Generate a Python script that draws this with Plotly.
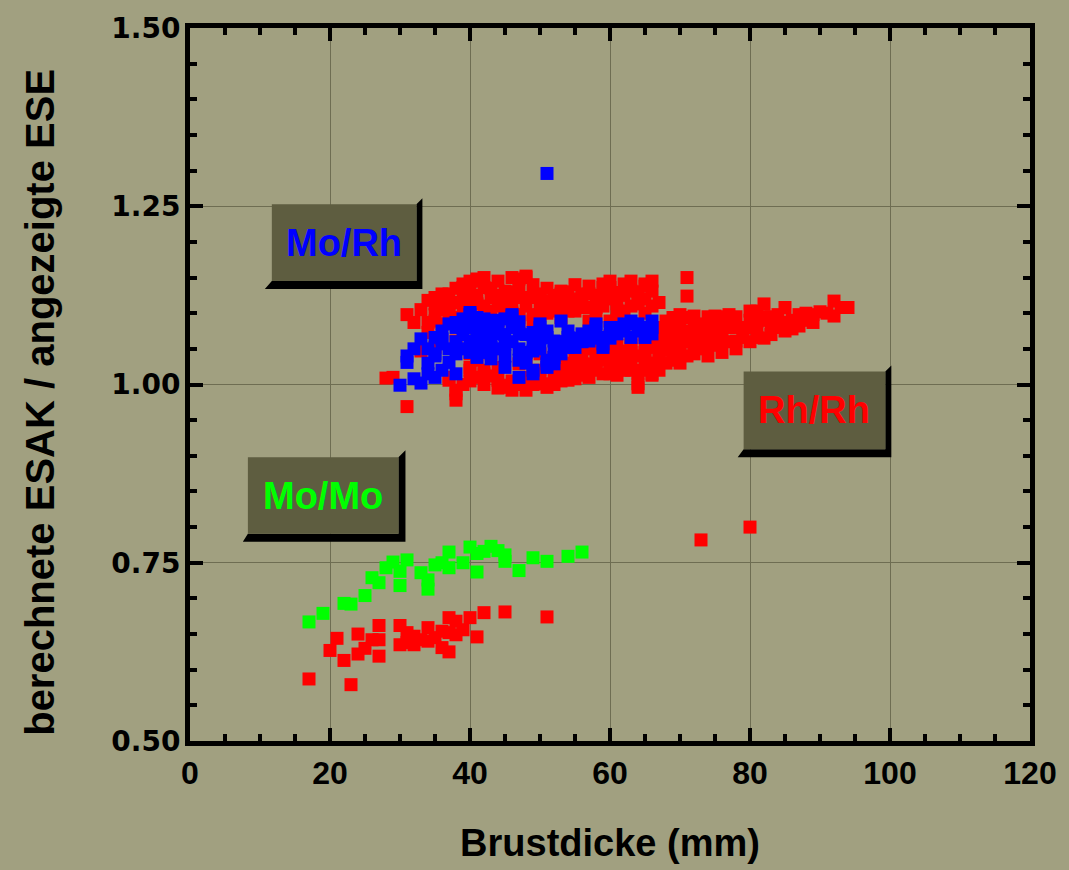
import plotly.graph_objects as go

# ---------------- data ----------------
red_x = [17, 20, 21, 22, 23, 24, 24, 25, 26, 27, 27, 27, 30, 30, 31, 31, 32, 32, 33, 34, 34, 35, 36, 36,
         37, 37, 37, 38, 38, 39, 40, 41, 42, 45, 51, 73, 80,
         28, 29, 31, 31, 32, 33, 34, 34, 35, 35, 35, 35, 35, 36, 36, 36, 37, 37, 37, 37, 37, 37, 38, 38,
         38, 38, 38, 39, 39, 39, 39, 40, 40, 40, 40, 40, 40, 41, 41, 41, 41, 41, 42, 42, 42, 43, 43, 43,
         44, 44, 44, 44, 45, 45, 45, 45, 45, 45, 46, 46, 46, 47, 47, 47, 47, 47, 47, 48, 48, 48, 48, 48,
         49, 49, 49, 49, 50, 50, 50, 50, 50, 50, 51, 51, 51, 51, 52, 52, 52, 52, 52, 53, 53, 53, 54, 54,
         54, 54, 55, 55, 55, 56, 56, 56, 56, 57, 57, 57, 57, 57, 58, 58, 58, 59, 59, 59, 59, 60, 60, 60,
         61, 61, 61, 61, 61, 62, 62, 62, 62, 62, 62, 63, 63, 63, 64, 64, 64, 64, 64, 64, 65, 65, 65, 66,
         66, 66, 66, 67, 67, 67, 67, 68, 68, 68, 69, 69, 69, 69, 70, 70, 70, 70, 70, 70, 71, 71, 71, 71,
         72, 72, 72, 73, 74, 74, 75, 75, 76, 76, 77, 78, 78, 79, 80, 80, 81, 81, 81, 82, 83, 84, 85, 85,
         87, 87, 89, 90, 92, 92, 93, 94,
         53, 55, 56, 58, 59, 60, 60, 61, 63, 63, 65, 65, 66, 67, 68, 68, 69, 71, 73, 74, 76, 77, 79, 82,
         33, 34, 36, 38, 38, 39, 40, 41, 42, 42, 43, 44, 44, 46, 46, 47, 48, 49, 50, 51, 51, 52, 53, 54,
         55, 55, 56, 57, 58, 58, 59, 60, 60, 61, 62, 63, 63, 64, 65, 65, 66, 66,
         39, 40, 41, 42, 43, 44, 46, 47, 48, 49, 50, 52, 53, 53, 54, 55, 56, 57, 58, 59, 60, 60, 61, 62,
         63, 63, 64, 65, 65, 66, 66, 67, 67, 68, 68, 69, 69, 70, 71, 71, 72, 72, 73, 73, 74, 74, 75, 75,
         76, 76, 77, 77, 78, 78, 79, 80, 80, 81, 82, 82, 83, 83, 84, 85, 86, 86, 88, 88, 89, 91, 57, 55,
         53, 61, 59]
red_y = [0.587, 0.627, 0.644, 0.613, 0.579, 0.650, 0.622, 0.630, 0.642, 0.662, 0.642, 0.619, 0.662, 0.635,
         0.652, 0.638, 0.647, 0.635, 0.642, 0.659, 0.640, 0.645, 0.654, 0.631, 0.673, 0.652, 0.625, 0.668,
         0.649, 0.656, 0.673, 0.646, 0.680, 0.681, 0.674, 0.782, 0.800,
         1.009, 1.010, 0.969, 1.098, 1.087, 1.047, 1.087, 1.073, 1.122, 1.113, 1.098, 1.089, 1.052, 1.127,
         1.122, 1.085, 1.127, 1.113, 1.103, 1.098, 1.010, 1.006, 1.094, 1.061, 0.992, 0.978, 0.987, 1.141,
         1.136, 1.122, 1.115, 1.145, 1.113, 1.103, 1.043, 1.024, 1.020, 1.148, 1.145, 1.113, 1.080, 1.034,
         1.136, 1.015, 1.020, 1.122, 1.103, 1.043, 1.145, 1.089, 1.024, 1.006, 1.131, 1.124, 1.108, 1.098,
         0.999, 0.996, 1.150, 1.113, 0.992, 1.136, 1.122, 1.098, 1.094, 1.085, 1.029, 1.152, 1.150, 1.122,
         1.034, 0.992, 1.122, 1.098, 1.089, 1.010, 1.127, 1.122, 1.098, 1.043, 1.010, 1.001, 1.117, 1.024,
         1.001, 0.996, 1.108, 1.103, 1.038, 1.029, 1.015, 1.131, 1.127, 1.094, 1.117, 1.103, 1.015, 1.006,
         1.103, 1.038, 1.024, 1.127, 1.122, 1.043, 1.013, 1.127, 1.108, 1.089, 1.029, 1.024, 1.108, 1.047,
         1.020, 1.141, 1.136, 1.122, 1.034, 1.136, 1.089, 1.015, 1.129, 1.113, 1.103, 1.020, 1.013, 1.141,
         1.103, 1.080, 1.047, 1.043, 1.034, 1.131, 1.066, 1.020, 1.117, 1.113, 1.020, 1.015, 1.001, 0.996,
         1.141, 1.138, 1.057, 1.131, 1.052, 1.015, 1.013, 1.115, 1.080, 1.043, 1.034, 1.089, 1.061, 1.057,
         1.094, 1.080, 1.038, 1.034, 1.098, 1.094, 1.080, 1.066, 1.052, 1.043, 1.150, 1.124, 1.094, 1.075,
         1.096, 1.052, 1.043, 1.085, 1.080, 1.057, 1.096, 1.071, 1.080, 1.061, 1.098, 1.080, 1.061, 1.066,
         1.103, 1.080, 1.103, 1.089, 1.066, 1.113, 1.080, 1.098, 1.108, 1.087, 1.098, 1.082, 1.087, 1.102,
         1.117, 1.096, 1.108, 1.108,
         1.060, 1.060, 1.055, 1.062, 1.045, 1.052, 1.068, 1.040, 1.045, 1.055, 1.035, 1.070, 1.062, 1.068,
         1.075, 1.048, 1.070, 1.062, 1.065, 1.070, 1.072, 1.085, 1.078, 1.090,
         1.105, 1.118, 1.105, 1.115, 1.135, 1.100, 1.130, 1.125, 1.110, 1.150, 1.135, 1.110, 1.125, 1.130,
         1.100, 1.148, 1.110, 1.140, 1.110, 1.135, 1.100, 1.125, 1.110, 1.130, 1.120, 1.140, 1.108, 1.138,
         1.125, 1.095, 1.110, 1.120, 1.145, 1.090, 1.125, 1.110, 1.145, 1.130, 1.100, 1.120, 1.110, 1.145,
         1.000, 1.005, 1.010, 1.000, 1.012, 0.995, 1.005, 1.000, 1.010, 1.000, 1.020, 1.000, 1.005, 1.022,
         1.030, 1.008, 1.028, 1.010, 1.032, 1.015, 1.028, 1.040, 1.030, 1.020, 1.030, 1.050, 1.040, 1.020,
         1.045, 1.030, 1.060, 1.055, 1.020, 1.030, 1.075, 1.050, 1.065, 1.030, 1.040, 1.060, 1.065, 1.080,
         1.050, 1.070, 1.040, 1.095, 1.055, 1.085, 1.045, 1.095, 1.060, 1.080, 1.050, 1.095, 1.080, 1.060,
         1.090, 1.075, 1.065, 1.095, 1.070, 1.095, 1.080, 1.075, 1.090, 1.078, 1.090, 1.100, 1.098, 1.100,
         1.050, 1.050, 1.040, 1.055, 1.045]

blue_x = [30, 31, 31, 32, 33, 33, 34, 34, 35, 35, 35, 35, 36, 36, 37, 38, 38, 38, 38, 39, 40, 40, 40, 41,
          41, 42, 42, 43, 43, 44, 45, 45, 45, 46, 46, 47, 47, 47, 49, 49, 49, 49, 50, 50, 51, 51, 51, 51,
          51, 52, 52, 52, 53, 53, 54, 54, 55, 56, 57, 58, 58, 59, 59, 59, 60, 61, 63, 63, 63, 65, 65, 66,
          66, 39, 41, 43, 44, 42, 40,
          36, 37, 37, 38, 39, 39, 40, 40, 41, 41, 42, 42, 43, 43, 44, 44, 45, 45, 46, 46, 47, 47, 48, 48,
          48, 49, 50, 50, 51, 52, 53, 54, 55, 56, 57, 58, 60, 61, 62, 62, 64, 64, 66, 34, 36, 32]
blue_y = [0.999, 1.031, 1.040, 1.008, 1.064, 1.002, 1.015, 1.050, 1.066, 1.010, 1.040, 1.043, 1.057, 1.064,
          1.031, 1.043, 1.015, 1.080, 1.087, 1.092, 1.101, 1.098, 1.061, 1.038, 1.094, 1.092, 1.080, 1.052,
          1.036, 1.071, 1.092, 1.024, 1.057, 1.098, 1.096, 1.071, 1.034, 1.010, 1.020, 1.047, 1.073, 1.015,
          1.085, 1.080, 1.066, 1.029, 1.024, 1.034, 1.296, 1.061, 1.029, 1.038, 1.089, 1.043, 1.066, 1.052,
          1.052, 1.071, 1.061, 1.085, 1.080, 1.057, 1.066, 1.052, 1.080, 1.071, 1.089, 1.085, 1.066, 1.080,
          1.066, 1.089, 1.071, 1.070, 1.070, 1.080, 1.090, 1.060, 1.080,
          1.075, 1.085, 1.050, 1.060, 1.050, 1.080, 1.045, 1.090, 1.055, 1.085, 1.045, 1.070, 1.065, 1.090,
          1.050, 1.080, 1.070, 1.040, 1.060, 1.080, 1.050, 1.088, 1.070, 1.045, 1.030, 1.060, 1.050, 1.065,
          1.075, 1.050, 1.060, 1.075, 1.065, 1.060, 1.075, 1.065, 1.065, 1.080, 1.075, 1.085, 1.075, 1.085,
          1.080, 1.030, 1.020, 1.050]

green_x = [17, 19, 22, 23, 25, 26, 27, 28, 29, 30, 30, 31, 33, 34, 34, 35, 36, 37, 37, 39, 40, 41, 41, 42,
           43, 44, 45, 45, 47, 49, 51, 54, 56]
green_y = [0.667, 0.679, 0.693, 0.692, 0.704, 0.729, 0.722, 0.743, 0.751, 0.738, 0.718, 0.754, 0.736, 0.713,
           0.726, 0.747, 0.750, 0.743, 0.765, 0.750, 0.772, 0.737, 0.763, 0.766, 0.773, 0.767, 0.752, 0.761,
           0.739, 0.757, 0.752, 0.759, 0.765]

x_title = "Brustdicke (mm)"
y_title = "berechnete ESAK / angezeigte ESE"
labels = ["Mo/Rh", "Rh/Rh", "Mo/Mo"]
label_colors = ["#0000FF", "#FF0000", "#00FF00"]

# ---------------- style ----------------
BG = "#A1A080"
BOX = "#5E5D40"
GRID = "#6E6D52"
MS = 13

fig = go.Figure()
for xs, ys, col in [(red_x, red_y, "#FF0000"), (blue_x, blue_y, "#0000FF"), (green_x, green_y, "#00FF00")]:
    fig.add_trace(go.Scatter(x=xs, y=ys, mode="markers",
                             marker=dict(symbol="square", size=MS, color=col, line=dict(width=0)),
                             showlegend=False, hoverinfo="skip"))

# label boxes: (left, right, bottom, top, shadow-left, shadow-right, shadow-bottom, shadow-top) in axis units
boxes = [
    (11.69, 32.35, 1.1453, 1.2528, 10.69, 33.20, 1.1341, 1.2612),
    (79.09, 99.33, 0.9092, 1.0182, 78.24, 100.19, 0.8980, 1.0265),
    (8.27, 29.78, 0.7905, 0.8980, 7.55, 30.78, 0.7793, 0.9078),
]
shapes = []
for (l, r, b, t, sl, sr, sb, st), txt, col in zip(boxes, labels, label_colors):
    path = f"M {l},{b} L {sl},{sb} L {sr},{sb} L {sr},{st} L {r},{t} L {r},{b} Z"
    shapes.append(dict(type="path", path=path, xref="x", yref="y", fillcolor="black",
                       line=dict(width=0), layer="above"))
    shapes.append(dict(type="rect", x0=l, x1=r, y0=b, y1=t, xref="x", yref="y", fillcolor=BOX,
                       line=dict(width=0), layer="above"))
    fig.add_annotation(x=(l + r) / 2, y=(b + t) / 2, xref="x", yref="y", text=txt, showarrow=False,
                       font=dict(family="Liberation Sans, Arial", size=38, color=col, weight="bold"))

fig.add_annotation(x=-0.178, y=0.475, xref="paper", yref="paper", text=y_title, textangle=-90,
                   showarrow=False, xanchor="center", yanchor="middle",
                   font=dict(family="Liberation Sans, Arial", size=40, color="black", weight="bold"))

axis_common = dict(showline=True, linecolor="black", linewidth=5, mirror="allticks",
                   ticks="inside", ticklen=13, tickwidth=4, tickcolor="black",
                   showgrid=True, gridcolor=GRID, gridwidth=1, zeroline=False)

fig.update_xaxes(range=[0, 120], dtick=20, tick0=0,
                 minor=dict(dtick=5, ticks="inside", ticklen=7, tickwidth=4, tickcolor="black", showgrid=False),
                 tickfont=dict(family="Liberation Sans, Arial", size=32, color="black", weight="bold"),
                 title=dict(text=x_title, standoff=40,
                            font=dict(family="Liberation Sans, Arial", size=38, color="black", weight="bold")),
                 **axis_common)
fig.update_yaxes(range=[0.5, 1.5], dtick=0.25, tick0=0.5, tickformat=".2f",
                 minor=dict(dtick=0.05, ticks="inside", ticklen=7, tickwidth=4, tickcolor="black", showgrid=False),
                 tickfont=dict(family="DejaVu Sans", size=28, color="black", weight="bold"),
                 ticklabelstandoff=-1,
                 **axis_common)

fig.update_layout(width=1069, height=870, paper_bgcolor=BG, plot_bgcolor=BG,
                  margin=dict(l=190, r=37, t=26, b=128), shapes=shapes)

fig.write_html("out.html", config={"displayModeBar": False},
               post_script="document.body.style.margin='0';document.body.style.overflow='hidden';"
                           "document.body.style.background='" + BG + "';")
